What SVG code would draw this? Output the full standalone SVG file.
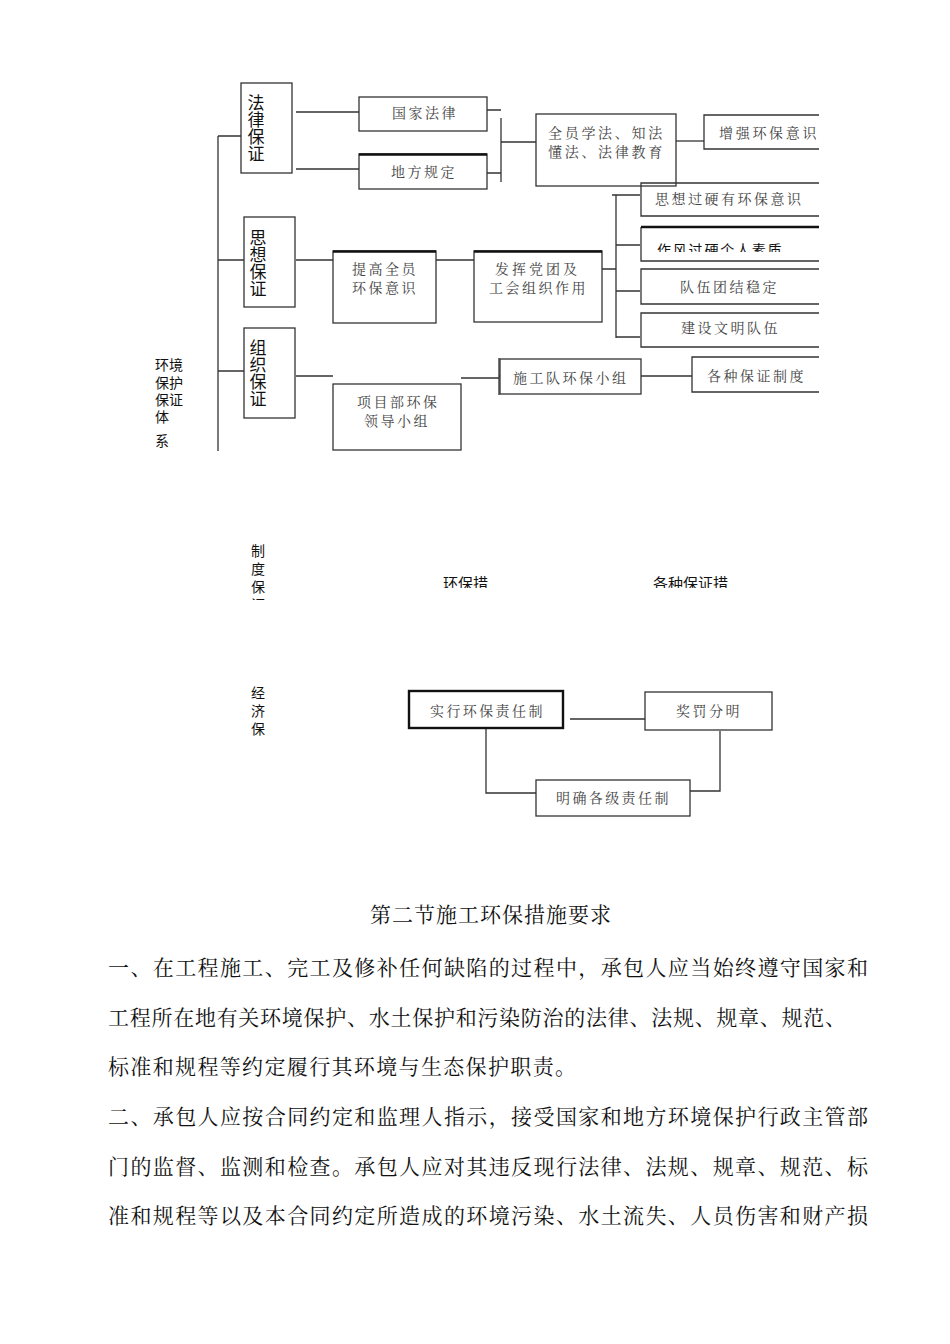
<svg xmlns="http://www.w3.org/2000/svg" width="950" height="1344" viewBox="0 0 950 1344">
<style>
.bx{fill:#fff;stroke:#333;stroke-width:1.3}
.tk{stroke:#111;stroke-width:2.6;fill:none}
.ln{stroke:#333;stroke-width:1.3;fill:none}
.lb{font-family:"Noto Serif CJK SC","Noto Sans CJK SC","Noto Sans CJK JP",serif;font-size:14px;fill:#444;letter-spacing:2.5px}
.vt{font-family:"Noto Sans CJK SC","Noto Sans CJK JP",sans-serif;font-size:17px;fill:#111;writing-mode:vertical-rl;letter-spacing:0}
.vs{font-family:"Noto Sans CJK SC","Noto Sans CJK JP",sans-serif;font-size:14px;fill:#111;writing-mode:vertical-rl;letter-spacing:4px}
.sm{font-family:"Noto Sans CJK SC","Noto Sans CJK JP",sans-serif;font-size:14px;fill:#111}
.bd{font-family:"Noto Serif CJK SC","Noto Sans CJK SC",serif;font-size:21px;fill:#111}
</style>
<defs>
<clipPath id="cR"><rect x="0" y="0" width="819" height="1344"/></clipPath>
<clipPath id="cZ"><rect x="0" y="0" width="950" height="252"/></clipPath>
<clipPath id="cD"><rect x="0" y="0" width="950" height="600"/></clipPath>
<clipPath id="cC"><rect x="0" y="0" width="950" height="588"/></clipPath>
<clipPath id="cJ"><rect x="0" y="0" width="950" height="740"/></clipPath>
<clipPath id="cB"><rect x="0" y="0" width="950" height="451"/></clipPath>
</defs>

<g id="connectors">
<path class="ln" d="M218 136V451M218 136H241M218 260H244M218 371H244"/>
<path class="ln" d="M296 112H359M296 169H359"/>
<path class="ln" d="M487 110H501M487 173H501M501 118V182M501 142H536"/>
<path class="ln" d="M676 141H704"/>
<path class="ln" d="M296 260H333M436 260H474"/>
<path class="ln" d="M602 269H616M616 195V338M612 195H640M616 245H640M616 291H640M616 337H640"/>
<path class="ln" d="M296 376H333M461 378H499M499 358V395M499 376H500M641 376H692"/>
<path class="ln" d="M570 719H645M486 729V793H536M720 731V791H690"/>
</g>

<g id="root-label">
<text class="sm"><tspan x="155" y="370">环境</tspan><tspan x="155" y="388">保护</tspan><tspan x="155" y="405">保证</tspan><tspan x="155" y="422">体</tspan><tspan x="155" y="446">系</tspan></text>
</g>

<g id="n-falv">
<rect class="bx" x="241" y="83" width="51" height="90"/>
<text class="vt" x="256" y="94">法律保证</text>
</g>
<g id="n-guojia">
<rect class="bx" x="359" y="97" width="128" height="34"/>
<text class="lb" x="392" y="118">国家法律</text>
</g>
<g id="n-difang">
<rect class="bx" x="359" y="154" width="128" height="35"/>
<path class="tk" d="M359 154.5H487"/>
<text class="lb" x="391" y="177">地方规定</text>
</g>
<g id="n-quanyuan">
<rect class="bx" x="536" y="114" width="140" height="72"/>
<text class="lb" x="548" y="138" style="letter-spacing:2.7px">全员学法、知法</text>
<text class="lb" x="548" y="157" style="letter-spacing:2.7px">懂法、法律教育</text>
</g>
<g id="n-zengqiang" clip-path="url(#cR)">
<path class="ln" d="M820 115H704V149H820"/>
<text class="lb" x="719" y="138" style="letter-spacing:2.7px">增强环保意识</text>
</g>

<g id="n-sixiang">
<rect class="bx" x="244" y="217" width="51" height="90"/>
<text class="vt" x="258" y="229">思想保证</text>
</g>
<g id="n-tigao">
<rect class="bx" x="333" y="251" width="103" height="72"/>
<path class="tk" d="M333 251.5H436"/>
<text class="lb" x="352" y="274">提高全员</text>
<text class="lb" x="352" y="293">环保意识</text>
</g>
<g id="n-fahui">
<rect class="bx" x="474" y="251" width="128" height="71"/>
<path class="tk" d="M474 251.5H602"/>
<text class="lb" x="495" y="274" style="letter-spacing:3px">发挥党团及</text>
<text class="lb" x="489" y="293">工会组织作用</text>
</g>
<g id="n-sixiangguoying" clip-path="url(#cR)">
<path class="ln" d="M820 183H641V216H820"/>
<text class="lb" x="655" y="204">思想过硬有环保意识</text>
</g>
<g id="n-zuofeng">
<g clip-path="url(#cR)">
<path class="ln" d="M641 227V261H820"/>
<path class="tk" d="M641 227H820"/>
</g>
<g clip-path="url(#cZ)">
<text class="sm" x="657" y="255" style="letter-spacing:1.8px">作风过硬个人素质</text>
</g>
</g>
<g id="n-duiwu" clip-path="url(#cR)">
<path class="ln" d="M820 269H641V304H820"/>
<text class="lb" x="680" y="292">队伍团结稳定</text>
</g>
<g id="n-jianshe" clip-path="url(#cR)">
<path class="ln" d="M820 313H641V347H820"/>
<text class="lb" x="681" y="333">建设文明队伍</text>
</g>

<g id="n-zuzhi">
<rect class="bx" x="244" y="328" width="51" height="90"/>
<text class="vt" x="258" y="339">组织保证</text>
</g>
<g id="n-xiangmu" clip-path="url(#cB)">
<rect class="bx" x="333" y="384" width="128" height="66"/>
<text class="lb" x="357" y="407">项目部环保</text>
<text class="lb" x="364" y="426">领导小组</text>
</g>
<g id="n-shigongdui">
<rect class="bx" x="500" y="359" width="141" height="35"/>
<text class="lb" x="513" y="383">施工队环保小组</text>
</g>
<g id="n-gezhong" clip-path="url(#cR)">
<path class="ln" d="M820 357H692V392H820"/>
<text class="lb" x="707" y="381">各种保证制度</text>
</g>

<g id="n-zhidu" clip-path="url(#cD)">
<text class="vs" x="258" y="544">制度保证</text>
</g>
<g id="n-huanbaocuo" clip-path="url(#cC)">
<text class="sm" x="443" y="589" style="font-size:15px">环保措</text>
</g>
<g id="n-gezhongcuo" clip-path="url(#cC)">
<text class="sm" x="653" y="589" style="font-size:15px">各种保证措</text>
</g>

<g id="n-jingji" clip-path="url(#cJ)">
<text class="vs" x="258" y="686">经济保证</text>
</g>
<g id="n-shixing">
<rect x="409" y="691" width="154" height="37" fill="#fff" stroke="#111" stroke-width="2.4"/>
<text class="lb" x="430" y="716" style="letter-spacing:2.4px">实行环保责任制</text>
</g>
<g id="n-jiangfa">
<rect class="bx" x="645" y="692" width="127" height="38"/>
<text class="lb" x="676" y="716">奖罚分明</text>
</g>
<g id="n-mingque">
<rect class="bx" x="536" y="780" width="154" height="36"/>
<text class="lb" x="556" y="803" style="letter-spacing:2.4px">明确各级责任制</text>
</g>

<g id="body-text">
<text class="bd" x="370" y="922" style="letter-spacing:1px">第二节施工环保措施要求</text>
<text class="bd" x="108" y="975" textLength="760" lengthAdjust="spacing">一、在工程施工、完工及修补任何缺陷的过程中，承包人应当始终遵守国家和</text>
<text class="bd" x="108" y="1025" textLength="738" lengthAdjust="spacing">工程所在地有关环境保护、水土保护和污染防治的法律、法规、规章、规范、</text>
<text class="bd" x="108" y="1074" style="letter-spacing:1.35px">标准和规程等约定履行其环境与生态保护职责。</text>
<text class="bd" x="108" y="1124" textLength="760" lengthAdjust="spacing">二、承包人应按合同约定和监理人指示，接受国家和地方环境保护行政主管部</text>
<text class="bd" x="108" y="1174" textLength="760" lengthAdjust="spacing">门的监督、监测和检查。承包人应对其违反现行法律、法规、规章、规范、标</text>
<text class="bd" x="108" y="1223" textLength="760" lengthAdjust="spacing">准和规程等以及本合同约定所造成的环境污染、水土流失、人员伤害和财产损</text>
</g>
</svg>
